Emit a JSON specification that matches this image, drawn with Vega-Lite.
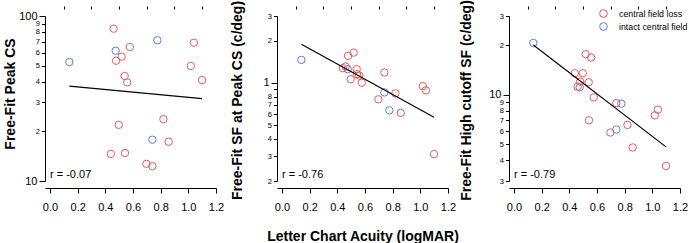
{
  "$schema": "https://vega.github.io/schema/vega-lite/v6.json",
  "background": "white",
  "padding": {"left": 3, "top": -1, "right": 0, "bottom": 0},
  "bounds": "flush",
  "spacing": 61,
  "resolve": {"scale": {"color": "independent"}},
  "datasets": {
    "subjects": [
      {"acuity": 0.14, "cs": 52.6, "sf": 1.46, "cutoff": 20.6, "group": "intact central field"},
      {"acuity": 0.475, "cs": 61.6, "sf": 1.253, "cutoff": 11.1, "group": "intact central field"},
      {"acuity": 0.74, "cs": 17.8, "sf": 0.856, "cutoff": 6.15, "group": "intact central field"},
      {"acuity": 0.776, "cs": 71.3, "sf": 0.638, "cutoff": 8.83, "group": "intact central field"},
      {"acuity": 0.44, "cs": 14.6, "sf": 1.274, "cutoff": 13.5, "group": "central field loss"},
      {"acuity": 0.46, "cs": 83.8, "sf": 1.31, "cutoff": 11.2, "group": "central field loss"},
      {"acuity": 0.478, "cs": 53.6, "sf": 1.56, "cutoff": 12.0, "group": "central field loss"},
      {"acuity": 0.497, "cs": 21.9, "sf": 1.064, "cutoff": 13.5, "group": "central field loss"},
      {"acuity": 0.518, "cs": 56.7, "sf": 1.646, "cutoff": 17.6, "group": "central field loss"},
      {"acuity": 0.54, "cs": 43.3, "sf": 1.253, "cutoff": 11.9, "group": "central field loss"},
      {"acuity": 0.542, "cs": 14.8, "sf": 1.155, "cutoff": 7.0, "group": "central field loss"},
      {"acuity": 0.558, "cs": 39.6, "sf": 1.13, "cutoff": 16.8, "group": "central field loss"},
      {"acuity": 0.577, "cs": 64.9, "sf": 1.003, "cutoff": 9.64, "group": "central field loss"},
      {"acuity": 0.697, "cs": 12.7, "sf": 0.764, "cutoff": 5.9, "group": "central field loss"},
      {"acuity": 0.74, "cs": 12.3, "sf": 1.187, "cutoff": 8.9, "group": "central field loss"},
      {"acuity": 0.82, "cs": 23.7, "sf": 0.843, "cutoff": 6.56, "group": "central field loss"},
      {"acuity": 0.858, "cs": 17.3, "sf": 0.611, "cutoff": 4.79, "group": "central field loss"},
      {"acuity": 1.018, "cs": 49.8, "sf": 0.949, "cutoff": 7.5, "group": "central field loss"},
      {"acuity": 1.04, "cs": 68.9, "sf": 0.885, "cutoff": 8.12, "group": "central field loss"},
      {"acuity": 1.099, "cs": 40.9, "sf": 0.311, "cutoff": 3.7, "group": "central field loss"}
    ],
    "fits": [
      {"measure": "cs", "acuity": 0.14, "value": 37.6},
      {"measure": "cs", "acuity": 1.099, "value": 31.6},
      {"measure": "sf", "acuity": 0.14, "value": 1.885},
      {"measure": "sf", "acuity": 1.099, "value": 0.569},
      {"measure": "cutoff", "acuity": 0.14, "value": 20.0},
      {"measure": "cutoff", "acuity": 1.099, "value": 4.83}
    ],
    "stats": [
      {"measure": "cs", "label": "r = -0.07"},
      {"measure": "sf", "label": "r = -0.76"},
      {"measure": "cutoff", "label": "r = -0.79"}
    ]
  },
  "config": {
    "view": {"stroke": null},
    "font": "Liberation Sans",
    "axis": {
      "grid": false,
      "domainColor": "black",
      "tickColor": "black",
      "labelColor": "black",
      "titleColor": "black",
      "labelFont": "Liberation Sans",
      "titleFont": "Liberation Sans",
      "titleFontWeight": "bold",
      "titleFontSize": 14,
      "domainWidth": 1,
      "tickWidth": 1,
      "labelOverlap": false,
      "labelBound": false,
      "labelFlush": false
    },
    "legend": {"labelFont": "Liberation Sans", "labelColor": "black", "rowPadding": 0}
  },
  "hconcat": [
    {
      "width": 171,
      "height": 165,
      "resolve": {"axis": {"x": "independent"}},
      "layer": [
        {
          "data": {"name": "subjects"},
          "mark": {"type": "point", "filled": false, "size": 55, "strokeWidth": 1, "opacity": 1},
          "encoding": {
            "x": {"field": "acuity", "type": "quantitative",
              "scale": {"domain": [-0.036, 1.2], "nice": false, "zero": false},
              "axis": {"title": null, "values": [0, 0.2, 0.4, 0.6, 0.8, 1.0, 1.2], "format": ".1f",
                "tickSize": 5, "labelOverlap": false, "labelFlush": false,
                "offset": 7, "labelFontSize": 11, "labelPadding": 8}},
            "y": {"field": "cs", "type": "quantitative",
              "scale": {"type": "log", "domain": [10, 100], "nice": false},
              "axis": {"title": "Free-Fit Peak CS", "titlePadding": 1, "titleY": 77.5,
                "values": [10,20,30,40,50,60,70,80,90,100],
                "labelOverlap": false,
                "labelExpr": "datum.value == 10 || datum.value == 100 ? datum.value + '' : round(datum.value/10) + ''",
                "labelFontSize": {"condition": {"test": "datum.value == 10 || datum.value == 100", "value": 11}, "value": 7.5},
                "tickSize": {"condition": {"test": "datum.value == 10 || datum.value == 100", "value": 6}, "value": 3.5},
                "labelPadding": 2}},
            "color": {"field": "group", "type": "nominal",
              "scale": {"domain": ["central field loss", "intact central field"], "range": ["#e25c5c", "#5a80d8"]},
              "legend": null}
          }
        },
        {
          "data": {"name": "fits"},
          "transform": [{"filter": "datum.measure == 'cs'"}],
          "mark": {"type": "line", "color": "black", "strokeWidth": 1.2},
          "encoding": {
            "x": {"field": "acuity", "type": "quantitative",
              "axis": {"title": null, "values": [0.1, 0.3, 0.5, 0.7, 0.9, 1.1], "labels": false, "domain": false, "tickSize": 3, "offset": 7}},
            "y": {"field": "value", "type": "quantitative"}
          }
        },
        {
          "data": {"name": "stats"},
          "transform": [{"filter": "datum.measure == 'cs'"}],
          "mark": {"type": "text", "align": "left", "baseline": "alphabetic", "dy": -3, "fontSize": 11, "color": "black"},
          "encoding": {
            "x": {"datum": 0, "axis": null},
            "y": {"datum": 10},
            "text": {"field": "label"}
          }
        }
      ]
    },
    {
      "width": 171,
      "height": 165,
      "resolve": {"axis": {"x": "independent"}},
      "layer": [
        {
          "data": {"name": "subjects"},
          "mark": {"type": "point", "filled": false, "size": 55, "strokeWidth": 1, "opacity": 1},
          "encoding": {
            "x": {"field": "acuity", "type": "quantitative",
              "scale": {"domain": [-0.036, 1.2], "nice": false, "zero": false},
              "axis": {"title": "Letter Chart Acuity (logMAR)", "titlePadding": 17, "values": [0, 0.2, 0.4, 0.6, 0.8, 1.0, 1.2], "format": ".1f",
                "tickSize": 5, "labelOverlap": false, "labelFlush": false,
                "offset": 7, "labelFontSize": 11, "labelPadding": 8}},
            "y": {"field": "sf", "type": "quantitative",
              "scale": {"type": "log", "domain": [0.2, 3], "nice": false},
              "axis": {"title": "Free-Fit SF at Peak CS (c/deg)", "titlePadding": 18, "titleY": 84,
                "values": [0.2,0.3,0.4,0.5,0.6,0.7,0.8,0.9,1,2,3],
                "labelOverlap": false,
                "labelExpr": "datum.value == 0.9 ? '' : (datum.value < 0.95 ? round(datum.value*10) + '' : round(datum.value) + '')",
                "labelFontSize": {"condition": {"test": "datum.value == 1", "value": 11}, "value": 7.5},
                "tickSize": {"condition": {"test": "datum.value == 1", "value": 6}, "value": 3.5},
                "labelPadding": 2}},
            "color": {"field": "group", "type": "nominal",
              "scale": {"domain": ["central field loss", "intact central field"], "range": ["#e25c5c", "#5a80d8"]},
              "legend": null}
          }
        },
        {
          "data": {"name": "fits"},
          "transform": [{"filter": "datum.measure == 'sf'"}],
          "mark": {"type": "line", "color": "black", "strokeWidth": 1.2},
          "encoding": {
            "x": {"field": "acuity", "type": "quantitative",
              "axis": {"title": null, "values": [0.1, 0.3, 0.5, 0.7, 0.9, 1.1], "labels": false, "domain": false, "tickSize": 3, "offset": 7}},
            "y": {"field": "value", "type": "quantitative"}
          }
        },
        {
          "data": {"name": "stats"},
          "transform": [{"filter": "datum.measure == 'sf'"}],
          "mark": {"type": "text", "align": "left", "baseline": "alphabetic", "dy": -3, "fontSize": 11, "color": "black"},
          "encoding": {
            "x": {"datum": 0, "axis": null},
            "y": {"datum": 0.2},
            "text": {"field": "label"}
          }
        }
      ]
    },
    {
      "width": 171,
      "height": 165,
      "resolve": {"axis": {"x": "independent"}},
      "layer": [
        {
          "data": {"name": "subjects"},
          "mark": {"type": "point", "filled": false, "size": 55, "strokeWidth": 1, "opacity": 1},
          "encoding": {
            "x": {"field": "acuity", "type": "quantitative",
              "scale": {"domain": [-0.036, 1.2], "nice": false, "zero": false},
              "axis": {"title": null, "values": [0, 0.2, 0.4, 0.6, 0.8, 1.0, 1.2], "format": ".1f",
                "tickSize": 5, "labelOverlap": false, "labelFlush": false,
                "offset": 7, "labelFontSize": 11, "labelPadding": 8}},
            "y": {"field": "cutoff", "type": "quantitative",
              "scale": {"type": "log", "domain": [3, 30], "nice": false},
              "axis": {"title": "Free-Fit High cutoff SF (c/deg)", "titlePadding": 15, "titleY": 84,
                "values": [3,4,5,6,7,8,9,10,20,30],
                "labelOverlap": false,
                "labelExpr": "datum.value == 10 ? '10' : (datum.value > 10 ? round(datum.value/10) + '' : round(datum.value) + '')",
                "labelFontSize": {"condition": {"test": "datum.value == 10", "value": 11}, "value": 7.5},
                "tickSize": {"condition": {"test": "datum.value == 10", "value": 6}, "value": 3.5},
                "labelPadding": 2}},
            "color": {"field": "group", "type": "nominal",
              "scale": {"domain": ["central field loss", "intact central field"], "range": ["#e25c5c", "#5a80d8"]},
              "legend": {"orient": "none", "legendX": 90, "legendY": -7, "title": null,
                "labelFontSize": 8.8, "symbolSize": 60, "symbolStrokeWidth": 1, "symbolType": "circle",
                "labelOffset": 11, "rowPadding": 0, "padding": 0}}
          }
        },
        {
          "data": {"name": "fits"},
          "transform": [{"filter": "datum.measure == 'cutoff'"}],
          "mark": {"type": "line", "color": "black", "strokeWidth": 1.2},
          "encoding": {
            "x": {"field": "acuity", "type": "quantitative",
              "axis": {"title": null, "values": [0.1, 0.3, 0.5, 0.7, 0.9, 1.1], "labels": false, "domain": false, "tickSize": 3, "offset": 7}},
            "y": {"field": "value", "type": "quantitative"}
          }
        },
        {
          "data": {"name": "stats"},
          "transform": [{"filter": "datum.measure == 'cutoff'"}],
          "mark": {"type": "text", "align": "left", "baseline": "alphabetic", "dy": -3, "fontSize": 11, "color": "black"},
          "encoding": {
            "x": {"datum": 0, "axis": null},
            "y": {"datum": 3},
            "text": {"field": "label"}
          }
        }
      ]
    }
  ]
}
